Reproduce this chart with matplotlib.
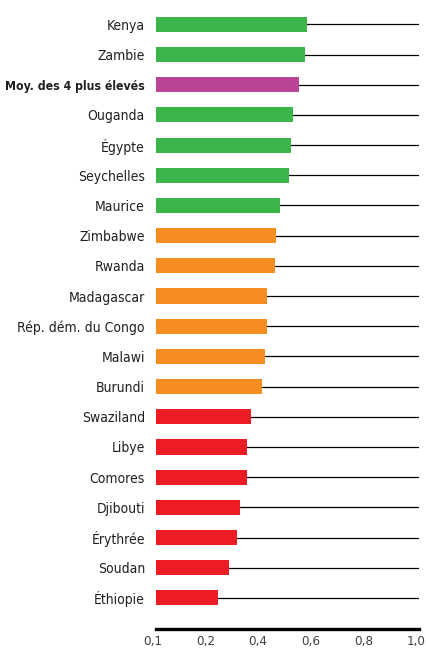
import matplotlib
matplotlib.use("Agg")
import matplotlib.pyplot as plt
import matplotlib.transforms as mtransforms

categories = ["Kenya", "Zambie", "Moy. des 4 plus élevés", "Ouganda", "Égypte",
              "Seychelles", "Maurice", "Zimbabwe", "Rwanda", "Madagascar",
              "Rép. dém. du Congo", "Malawi", "Burundi", "Swaziland", "Libye",
              "Comores", "Djibouti", "Érythrée", "Soudan", "Éthiopie"]
values = [0.574, 0.567, 0.544, 0.521, 0.513, 0.506, 0.471, 0.456, 0.452, 0.422,
          0.422, 0.414, 0.403, 0.361, 0.346, 0.346, 0.319, 0.308, 0.278, 0.236]
groups = ["g", "g", "m", "g", "g", "g", "g", "o", "o", "o",
          "o", "o", "o", "r", "r", "r", "r", "r", "r", "r"]
tick_values = [0.0, 0.2, 0.4, 0.6, 0.8, 1.0]
tick_labels = ["0,1", "0,2", "0,4", "0,6", "0,8", "1,0"]

palette = {"g": "#3BB54A", "m": "#BC4497", "o": "#F68D20", "r": "#ED1C24"}

fig = plt.figure(figsize=(4.27, 6.55), dpi=100)
ax = fig.add_axes([156/427, 1 - 629/655, (419-156)/427, 624/655])

n = len(categories)
ypos = [n - 1 - i for i in range(n)]
colors = [palette[g] for g in groups]

ax.barh(ypos, values, height=0.5, color=colors, zorder=3)
for y in ypos:
    ax.axhline(y, color="black", lw=0.9, zorder=1)

ax.set_xlim(0, 1.0)
ax.set_ylim(-1.03, n - 1 + 0.64)

ax.set_yticks(ypos)
ax.set_yticklabels(categories)
ax.set_xticks(tick_values)
ax.set_xticklabels([])

for lbl in ax.get_yticklabels():
    lbl.set_fontfamily("DejaVu Sans")
    lbl.set_fontstretch("condensed")
    lbl.set_fontsize(10)
    lbl.set_color("#231F20")
    if lbl.get_text().startswith("Moy."):
        lbl.set_fontweight("bold")
        lbl.set_fontsize(8.8)

trans = ax.get_xaxis_transform() + mtransforms.ScaledTranslation(-3/100, -6/100, fig.dpi_scale_trans)
for v, t in zip(tick_values, tick_labels):
    ax.text(v, 0, t, transform=trans, ha="center", va="top",
            fontfamily="DejaVu Sans", fontstretch="condensed", fontsize=9.6, color="#404040")

ax.tick_params(axis="y", length=0, pad=8)
ax.tick_params(axis="x", length=0, pad=5)

for s in ["top", "right", "left"]:
    ax.spines[s].set_visible(False)
ax.spines["bottom"].set_linewidth(2.4)
ax.spines["bottom"].set_color("black")

fig.savefig("out.png", dpi=100)
